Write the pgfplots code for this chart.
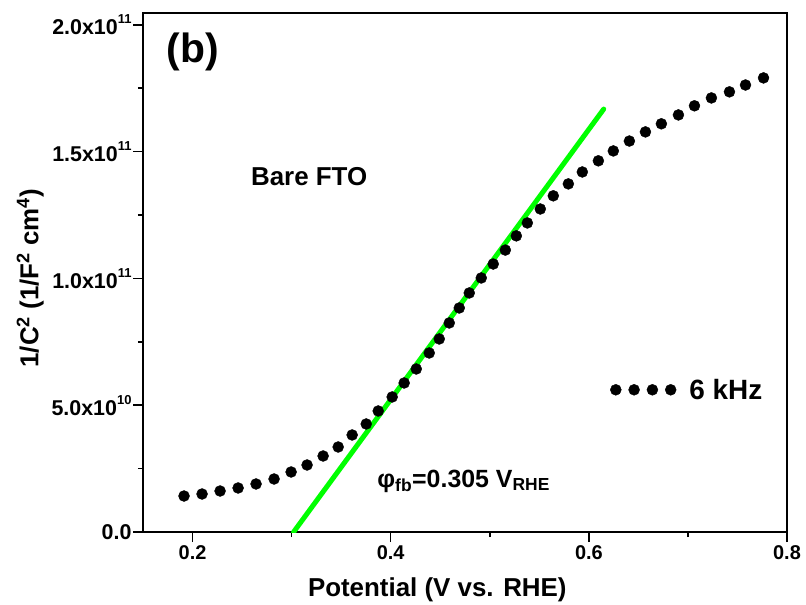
\documentclass[border=0pt]{standalone}
\usepackage{fontspec}
\setmainfont{Liberation Sans}
\usepackage{pgfplots}
\usepackage{pgfplotstable}
\pgfplotsset{compat=1.18}
\definecolor{fitgreen}{RGB}{0,255,0}

% Mott-Schottky data, 6 kHz
\pgfplotstableread{
x       y
0.1914  1.420e10
0.2096  1.499e10
0.2278  1.617e10
0.2460  1.736e10
0.2641  1.894e10
0.2823  2.091e10
0.2995  2.367e10
0.3156  2.643e10
0.3318  2.998e10
0.3470  3.353e10
0.3611  3.827e10
0.3753  4.260e10
0.3874  4.773e10
0.4015  5.326e10
0.4136  5.878e10
0.4258  6.430e10
0.4389  7.061e10
0.4490  7.614e10
0.4591  8.245e10
0.4692  8.836e10
0.4793  9.428e10
0.4914  1.002e11
0.5035  1.057e11
0.5157  1.112e11
0.5268  1.168e11
0.5379  1.219e11
0.5510  1.274e11
0.5641  1.326e11
0.5793  1.373e11
0.5934  1.420e11
0.6096  1.464e11
0.6247  1.503e11
0.6409  1.542e11
0.6571  1.578e11
0.6732  1.610e11
0.6904  1.645e11
0.7066  1.681e11
0.7237  1.712e11
0.7419  1.736e11
0.7581  1.763e11
0.7763  1.791e11
}\msdata

\newcommand{\ex}[1]{\raisebox{0.5em}{\fontsize{13}{13}\selectfont #1}}

\begin{document}
\begin{tikzpicture}
\begin{axis}[
    name=ax,
    scale only axis,
    width=644bp, height=519bp,
    xmin=0.15, xmax=0.8,
    ymin=0, ymax=2.047e11,
    xtick={0.2,0.4,0.6,0.8},
    xticklabels={0.2,0.4,0.6,0.8},
    ytick={0,5e10,1e11,1.5e11,2e11},
    yticklabels={0.0,5.0x10\ex{10},1.0x10\ex{11},1.5x10\ex{11},2.0x10\ex{11}},
    minor x tick num=1,
    minor y tick num=1,
    tick align=outside,
    xtick pos=bottom,
    ytick pos=left,
    major tick length=10bp,
    minor tick length=5bp,
    tick style={black, line width=1.6bp},
    axis line style={line width=1.6bp},
    xticklabel style={font=\bfseries\fontsize{20}{20}\selectfont},
    yticklabel style={font=\bfseries\fontsize{21.5}{21.5}\selectfont, xshift=2bp},
    xlabel={Potential (V vs. RHE)},
    ylabel={1/C\textsuperscript{2} (1/F\textsuperscript{2} cm\textsuperscript{4})},
    label style={font=\bfseries\fontsize{26}{26}\selectfont},
    xlabel style={at={(axis description cs:0.457,-0.125)}, anchor=base},
    ylabel style={at={(axis description cs:-0.175,0.489)}, anchor=center},
    legend style={at={(0.725,0.274)}, anchor=west, draw=none, fill=none,
        inner sep=0pt, column sep=11bp, font=\bfseries\fontsize{28}{28}\selectfont},
]
\addplot[only marks, mark=*, mark size=5.5bp, black,
    legend image code/.code={
        \foreach \k in {0,1,2,3}{\fill[black] (\k*18.3bp+5.5bp,0) circle (5.5bp);}
    }] table[x=x, y=y] {\msdata};
\addlegendentry{6 kHz}
\addplot[forget plot, fitgreen, line width=5bp, line cap=round]
    coordinates {(0.302,0) (0.615,1.668e11)};

\node[font=\bfseries\fontsize{41}{41}\selectfont] at (axis cs:0.2005,1.894e11) {(b)};
\node[font=\bfseries\fontsize{26}{26}\selectfont] at (axis cs:0.3177,1.40e11) {Bare FTO};
\node[anchor=base west, inner sep=0pt, font=\bfseries\fontsize{25}{25}\selectfont]
    at (axis cs:0.3864,1.775e10) {φ\textsubscript{fb}=0.305 V\textsubscript{RHE}};
\end{axis}
\pgfresetboundingbox
\path ([xshift=-143bp,yshift=-72bp]ax.south west) rectangle ([xshift=19bp,yshift=13bp]ax.north east);
\end{tikzpicture}
\end{document}
